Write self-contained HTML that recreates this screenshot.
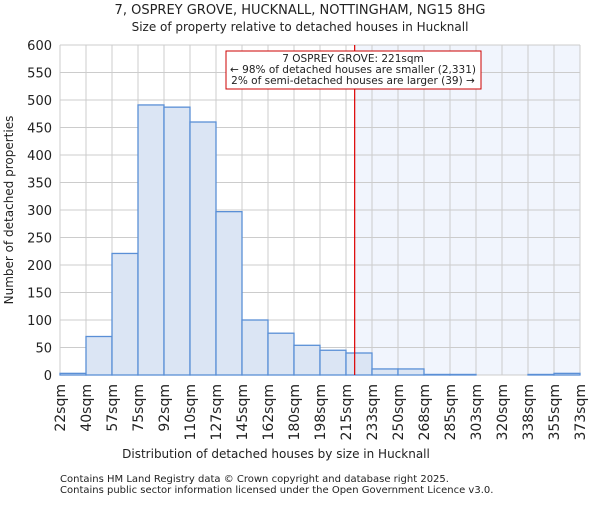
<!DOCTYPE html>
<html><head><meta charset="utf-8"><style>
body{margin:0;background:#fff}
text{font-family:"DejaVu Sans","Liberation Sans",sans-serif;fill:#222}
</style></head><body>
<svg id="c" width="600" height="500" xmlns="http://www.w3.org/2000/svg">
<text x="300" y="14" text-anchor="middle" font-size="13">7, OSPREY GROVE, HUCKNALL, NOTTINGHAM, NG15 8HG</text>
<text x="300" y="31" text-anchor="middle" font-size="12">Size of property relative to detached houses in Hucknall</text>
<g id="plot"></g>
<text x="276" y="458" text-anchor="middle" font-size="12">Distribution of detached houses by size in Hucknall</text>
<text transform="translate(13,210) rotate(-90)" text-anchor="middle" font-size="12">Number of detached properties</text>
<text x="60" y="482" font-size="10" fill="#444">Contains HM Land Registry data © Crown copyright and database right 2025.</text>
<text x="60" y="493" font-size="10" fill="#444">Contains public sector information licensed under the Open Government Licence v3.0.</text>
</svg>
<script>
const binLabels=["22sqm","40sqm","57sqm","75sqm","92sqm","110sqm","127sqm","145sqm","162sqm","180sqm","198sqm","215sqm","233sqm","250sqm","268sqm","285sqm","303sqm","320sqm","338sqm","355sqm","373sqm"];
const binEdges=[22,40,57,75,92,110,127,145,162,180,198,215,233,250,268,285,303,320,338,355,373];
const counts=[3,70,221,491,487,460,297,100,76,54,45,40,11,11,1,1,0,0,1,3];
const yTicks=[0,50,100,150,200,250,300,350,400,450,500,550,600];
const subjectSize=221;
const NS="http://www.w3.org/2000/svg";
const L=60,R=580,T=45,B=375,yMax=600;
const n=counts.length,bw=(R-L)/n;
const xi=i=>L+i*bw;
const y=v=>B-v/yMax*(B-T);
function xs(v){for(let i=0;i<binEdges.length-1;i++){if(v<=binEdges[i+1])return xi(i)+(v-binEdges[i])/(binEdges[i+1]-binEdges[i])*bw;}return R;}
const g=document.getElementById('plot');
function mk(t,a){const e=document.createElementNS(NS,t);for(const k in a)e.setAttribute(k,a[k]);g.appendChild(e);return e;}
const sx=xs(subjectSize);
let e=mk('rect',{x:sx,y:T,width:R-sx,height:B-T,fill:'#f1f5fd'});


yTicks.forEach(t=>{const l=mk('line',{x1:L,x2:R,y1:y(t),y2:y(t),stroke:'#ccc','stroke-width':1});


const tx=mk('text',{x:L-8,y:y(t)+5,'text-anchor':'end','font-size':13});tx.textContent=t;

});
binLabels.forEach((lb,i)=>{const l=mk('line',{x1:xi(i),x2:xi(i),y1:T,y2:B,stroke:'#ccc','stroke-width':1});


const tx=mk('text',{transform:`translate(${xi(i)+5},${B+9}) rotate(-90)`,'text-anchor':'end','font-size':14});tx.textContent=lb;

});
counts.forEach((c,i)=>{if(c<=0)return;const r=mk('rect',{x:xi(i),y:y(c),width:bw,height:B-y(c),fill:'#dbe5f4',stroke:'#5a8fd6','stroke-width':1.3});

});
e=mk('line',{x1:sx,x2:sx,y1:T,y2:B,stroke:'#d00','stroke-width':1.2});


e=mk('rect',{x:226,y:51,width:255,height:38,fill:'#fff',stroke:'#c00','stroke-width':1});


[["7 OSPREY GROVE: 221sqm",62],["← 98% of detached houses are smaller (2,331)",73],["2% of semi-detached houses are larger (39) →",84]].forEach(([t,yy])=>{const tx=mk('text',{x:353,y:yy,'text-anchor':'middle','font-size':10.5});tx.textContent=t;

});
</script>
</body></html>
